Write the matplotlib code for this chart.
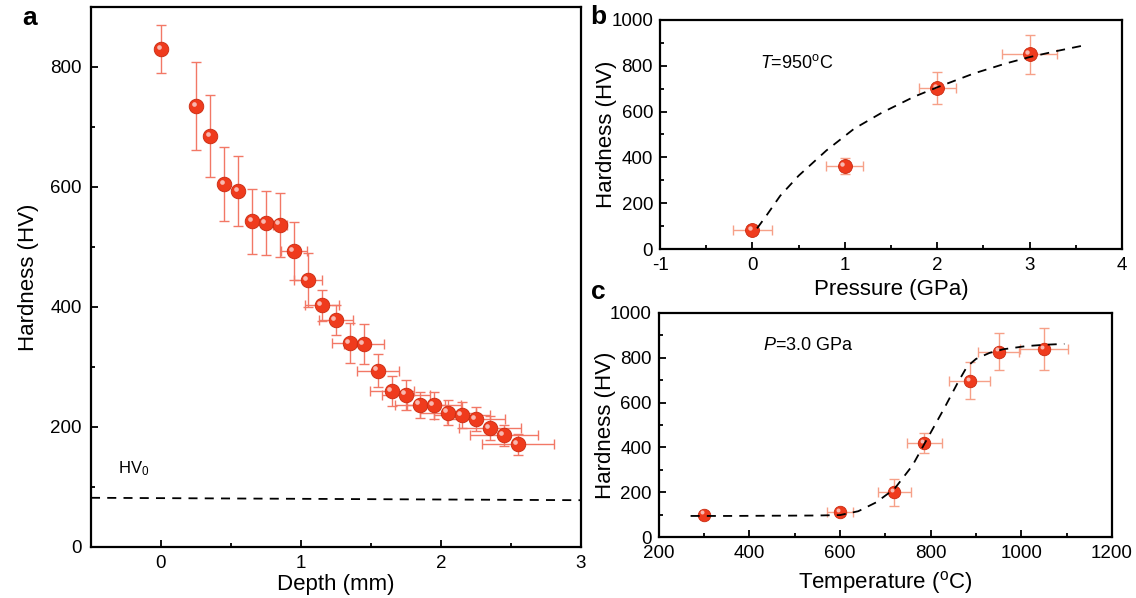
import matplotlib
matplotlib.use("Agg")
import matplotlib.pyplot as plt
from matplotlib.ticker import MultipleLocator
from matplotlib.transforms import offset_copy

plt.rcParams['font.family'] = ['Liberation Sans', 'DejaVu Sans']
plt.rcParams['mathtext.fontset'] = 'custom'
plt.rcParams['mathtext.it'] = 'Liberation Sans:italic'
plt.rcParams['mathtext.rm'] = 'Liberation Sans'
plt.rcParams['axes.unicode_minus'] = False

# ---- panel a: hardness vs depth ----
depth = [0.0, 0.25, 0.35, 0.45, 0.55, 0.65, 0.75, 0.85, 0.95, 1.05, 1.15, 1.25, 1.35,
         1.45, 1.55, 1.65, 1.75, 1.85, 1.95, 2.05, 2.15, 2.25, 2.35, 2.45, 2.55]
hv_depth = [830, 735, 685, 605, 593, 543, 540, 537, 493, 445, 403, 378, 340,
            338, 294, 260, 254, 237, 236, 224, 220, 213, 198, 186, 171]
hv_depth_err = [40, 73, 68, 61, 58, 54, 54, 53, 48, 45, 26, 25, 34,
                33, 28, 25, 25, 22, 22, 21, 21, 20, 20, 18, 17]
depth_err = [0, 0, 0, 0, 0, 0, 0, 0.05, 0.09, 0.1, 0.12, 0.12, 0.13,
             0.14, 0.15, 0.16, 0.17, 0.18, 0.19, 0.2, 0.2, 0.21, 0.22, 0.24, 0.26]
hv0_x = [-0.5, 3.0]
hv0_y = [82, 78]

# ---- panel b: hardness vs pressure ----
pressure = [0, 1, 2, 3]
hv_pressure = [83, 362, 702, 851]
hv_pressure_err = [10, 36, 70, 85]
pressure_err = [0.21, 0.2, 0.2, 0.3]
fit_b_x = [0.05, 0.15, 0.3, 0.5, 0.8, 1.1, 1.4, 1.75, 2.0, 2.4, 2.75, 3.0, 3.3, 3.6]
fit_b_y = [90, 145, 232, 320, 430, 525, 595, 665, 706, 767, 811, 838, 865, 890]

# ---- panel c: hardness vs temperature ----
temperature = [300, 600, 720, 786, 886, 950, 1050]
hv_temp = [100, 110, 200, 420, 698, 828, 838]
hv_temp_err = [0, 10, 60, 46, 82, 83, 93]
temp_err = [0, 29, 36, 39, 45, 46, 53]
fit_c_x = [270, 350, 450, 550, 600, 640, 680, 720, 760, 790, 830, 860, 880,
           900, 930, 960, 1010, 1050, 1095]
fit_c_y = [94, 94, 95, 96, 98, 115, 155, 215, 320, 430, 575, 690, 760,
           795, 822, 838, 852, 858, 862]

BALL = '#ef3b1d'
EDGE = '#c92a10'


def balls(ax, x, y, xerr, yerr, ecolor, ms):
    ax.errorbar(x, y, xerr=xerr, yerr=yerr, fmt='none', ecolor=ecolor,
                elinewidth=1.0, capsize=3.5, capthick=1.0, zorder=2)
    ax.plot(x, y, 'o', ms=ms, color=BALL, mec=EDGE, mew=0.6, zorder=3)
    # small highlight to mimic the shaded spheres
    shift = offset_copy(ax.transData, fig=ax.figure, x=-ms * 0.17, y=ms * 0.17, units='points')
    ax.plot(x, y, 'o', ms=ms * 0.32, color='#f8b8b0', mew=0, transform=shift, zorder=4)


def style(ax, xmaj, xmin, ymaj, ymin, ypad):
    ax.xaxis.set_major_locator(MultipleLocator(xmaj))
    ax.xaxis.set_minor_locator(MultipleLocator(xmin))
    ax.yaxis.set_major_locator(MultipleLocator(ymaj))
    ax.yaxis.set_minor_locator(MultipleLocator(ymin))
    ax.tick_params(which='both', direction='in', top=False, right=False, labelsize=13.5, width=1.3)
    ax.tick_params(which='major', length=5)
    ax.tick_params(which='minor', length=3)
    ax.tick_params(axis='x', pad=6)
    ax.tick_params(axis='y', pad=ypad)
    for sp in ax.spines.values():
        sp.set_linewidth(1.6)


fig = plt.figure(figsize=(11.36, 5.98), dpi=100)

ax_a = fig.add_axes([0.0801, 0.0853, 0.4313, 0.903])
ax_a.plot(hv0_x, hv0_y, '--', color='black', lw=1.3, dashes=(5, 4))
balls(ax_a, depth, hv_depth, depth_err, hv_depth_err, '#f27866', 10.5)
ax_a.set_xlim(-0.5, 3)
ax_a.set_ylim(0, 900)
style(ax_a, 1, 0.5, 200, 100, 6.5)
ax_a.set_xlabel('Depth (mm)', fontsize=16, labelpad=1)
ax_a.set_ylabel('Hardness (HV)', fontsize=16, labelpad=8)
ax_a.text(-0.31, 130, r'HV$_{\mathregular{0}}$', fontsize=12, va='center', ha='left')

ax_b = fig.add_axes([0.581, 0.5836, 0.4067, 0.383])
ax_b.plot(fit_b_x, fit_b_y, '--', color='black', lw=1.3, dashes=(5, 4), zorder=5)
balls(ax_b, pressure, hv_pressure, pressure_err, hv_pressure_err, '#f6a088', 10)
ax_b.set_xlim(-1, 4)
ax_b.set_ylim(0, 1000)
style(ax_b, 1, 0.5, 200, 100, 5)
ax_b.set_xlabel('Pressure (GPa)', fontsize=16, labelpad=3)
ax_b.set_ylabel('Hardness (HV)', fontsize=16, labelpad=-4)
ax_b.text(0.08, 811, r'$\mathit{T}$=950$^{\mathregular{o}}$C', fontsize=13, va='center', ha='left')

ax_c = fig.add_axes([0.580, 0.102, 0.3988, 0.3746])
ax_c.plot(fit_c_x, fit_c_y, '--', color='black', lw=1.3, dashes=(5, 4), zorder=5)
balls(ax_c, temperature, hv_temp, temp_err, hv_temp_err, '#f6a088', 9)
ax_c.set_xlim(200, 1200)
ax_c.set_ylim(0, 1000)
style(ax_c, 200, 100, 200, 100, 5)
ax_c.set_xlabel(r'Temperature ($^{\mathregular{o}}$C)', fontsize=16, labelpad=5)
ax_c.set_ylabel('Hardness (HV)', fontsize=16, labelpad=-4)
ax_c.text(429, 857, r'$\mathit{P}$=3.0 GPa', fontsize=13, va='center', ha='left')

fig.text(0.026, 0.97, 'a', fontsize=19, fontweight='bold', va='center', ha='center')
fig.text(0.527, 0.972, 'b', fontsize=19, fontweight='bold', va='center', ha='center')
fig.text(0.527, 0.512, 'c', fontsize=19, fontweight='bold', va='center', ha='center')

fig.savefig('out.png', dpi=100)
